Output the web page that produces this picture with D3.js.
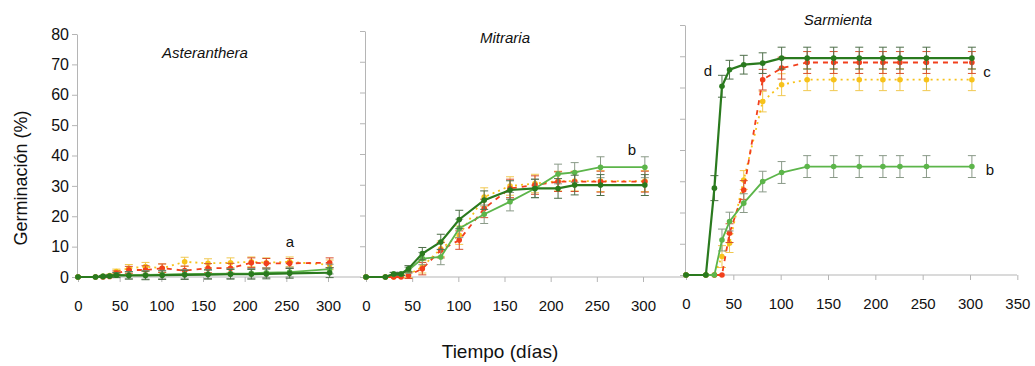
<!DOCTYPE html>
<html>
<head>
<meta charset="utf-8">
<script src="https://cdn.jsdelivr.net/npm/d3@7"></script>
<style>
  body { margin: 0; background: #fff; }
  text { font-family: "Liberation Sans", Arial, sans-serif; }
</style>
</head>
<body>
<div id="chart"></div>
<script>
// sampling days (shared by the three species)
const days = [0, 21, 30, 38, 46, 61, 81, 101, 128, 156, 183, 208, 226, 254, 302];

// Asteranthera
const asterDark   = [0, 0, 0.2, 0.3, 0.6, 0.5, 0.5, 0.6, 0.7, 0.8, 0.9, 0.9, 1.0, 1.2, 1.4];
const asterLight  = [0, 0, 0.2, 0.3, 0.6, 0.6, 0.7, 0.8, 0.9, 1.0, 1.1, 1.2, 1.4, 1.6, 2.6];
const asterRed    = [0, 0, 0, 0.2, 1.2, 2.3, 2.3, 2.9, 2.1, 2.9, 2.9, 4.7, 4.5, 4.5, 4.7];
const asterYellow = [0, 0, 0.2, 0.5, 1.8, 2.9, 3.4, 2.9, 5.0, 4.5, 4.7, 5.0, 4.7, 5.0, 4.0];
const asterErr    = [0, 0, 0.3, 0.4, 0.8, 1.2, 1.4, 1.4, 1.5, 1.5, 1.6, 1.6, 1.6, 1.6, 1.6];

// Mitraria
const mitDark   = [0, 0, 1, 1, 2.7, 7.6, 11.4, 18.7, 25, 28.3, 28.8, 28.8, 29.9, 29.9, 29.9];
const mitLight  = [0, 0, 1, 1, 2.2, 6, 6.5, 15.8, 20.4, 24.5, 28.8, 33.5, 34, 35.7, 35.7];
const mitRed    = [0, 0, 0, 0, 0.5, 2.7, 8.7, 12, 22.3, 28.8, 29.9, 31, 31, 31, 31];
const mitYellow = [0, 0, 0, 0.3, 0.8, 3.3, 9.2, 13.6, 26, 29.6, 30.4, 31.2, 31.2, 31.2, 31.2];
const mitErr    = [0, 0, 0.5, 0.5, 1, 2, 2.5, 3, 3, 3, 3, 3.2, 3.2, 3.4, 3.4];

// Sarmienta
const sarDark   = [0, 0, 27.8, 60.4, 65.7, 67.3, 67.8, 69.4, 69.4, 69.4, 69.4, 69.4, 69.4, 69.4, 69.4];
const sarLight  = [0, 0, 0, 11.2, 17.1, 23, 29.9, 32.8, 34.7, 34.7, 34.7, 34.7, 34.7, 34.7, 34.7];
const sarRed    = [0, 0, 0, 0, 13.4, 27.2, 62.5, 66.2, 68, 68, 68, 68, 68, 68, 68];
const sarYellow = [0, 0, 0, 5.9, 10.2, 30.4, 55.5, 60.9, 62.5, 62.5, 62.5, 62.5, 62.5, 62.5, 62.5];
const sarErr    = [0, 0, 4, 3.5, 3, 3, 3.3, 3.5, 3.5, 3.5, 3.5, 3.5, 3.5, 3.5, 3.5];

const yTicks = [0, 10, 20, 30, 40, 50, 60, 70, 80];

const svg = d3.select('#chart').append('svg')
  .attr('width', 1035)
  .attr('height', 366);

const axisColor = '#b5b5b5';
const styles = {
  dark:   { line: '#2a7a1e', err: '#4f6f4a', width: 2.2, dash: null },
  light:  { line: '#5cb54a', err: '#8a9a88', width: 1.8, dash: null },
  red:    { line: '#f2401c', err: '#d9502e', width: 1.8, dash: '5,5' },
  yellow: { line: '#f7c21a', err: '#f0c850', width: 1.8, dash: '2,4' }
};

const panels = [
  { title: 'Asteranthera', tx: 205, ty: 58, x0: 78, x300: 328, xEnd: 361, xMax: 300,
    y0: 277, y80: 34, labels: true,
    series: { yellow: asterYellow, red: asterRed, light: asterLight, dark: asterDark }, err: asterErr,
    notes: [{ t: 'a', x: 290, y: 247 }] },
  { title: 'Mitraria', tx: 505, ty: 43, x0: 366, x300: 643, xEnd: 684, xMax: 300,
    y0: 277, y80: 31, labels: false,
    series: { yellow: mitYellow, red: mitRed, light: mitLight, dark: mitDark }, err: mitErr,
    notes: [{ t: 'b', x: 632, y: 155 }] },
  { title: 'Sarmienta', tx: 838, ty: 25, x0: 686, x300: 970, xEnd: 1017, xMax: 350,
    y0: 275, y80: 25, labels: false,
    series: { yellow: sarYellow, red: sarRed, light: sarLight, dark: sarDark }, err: sarErr,
    notes: [{ t: 'd', x: 708, y: 76 }, { t: 'c', x: 987, y: 77 }, { t: 'b', x: 990, y: 175 }] }
];

panels.forEach(p => {
  const x = d3.scaleLinear().domain([0, 300]).range([p.x0, p.x300]);
  const y = d3.scaleLinear().domain([0, 80]).range([p.y0, p.y80]);
  const g = svg.append('g');

  // y axis
  const ya = g.append('g')
    .attr('transform', `translate(${p.x0 - 1},0)`)
    .call(d3.axisLeft(y).tickValues(yTicks).tickSize(5).tickSizeOuter(0).tickPadding(3));
  ya.select('.domain').attr('stroke', axisColor);
  ya.selectAll('.tick line').attr('stroke', axisColor);
  ya.selectAll('.tick text')
    .attr('fill', '#111')
    .style('font-size', '16px')
    .style('display', p.labels ? null : 'none');

  // x axis
  const xTicks = d3.range(0, p.xMax + 1, 50);
  const xa = g.append('g')
    .attr('transform', `translate(0,${p.y0})`)
    .call(d3.axisBottom(x).tickValues(xTicks).tickSize(5).tickSizeOuter(0).tickPadding(18));
  xa.select('.domain').remove();
  xa.append('line')
    .attr('x1', p.x0 - 1).attr('x2', p.xEnd)
    .attr('stroke', axisColor);
  xa.selectAll('.tick line').attr('stroke', axisColor);
  xa.selectAll('.tick text').attr('fill', '#111').style('font-size', '15px');

  // series
  Object.keys(p.series).forEach(k => {
    const vals = p.series[k];
    const s = styles[k];
    const pts = days.map((d, i) => ({ d, v: vals[i], e: p.err[i] }));

    const eg = g.append('g');
    pts.filter(q => q.e > 0 && q.v > 0).forEach(q => {
      eg.append('line')
        .attr('x1', x(q.d)).attr('x2', x(q.d))
        .attr('y1', y(q.v - q.e)).attr('y2', y(q.v + q.e))
        .attr('stroke', s.err).attr('stroke-width', 1);
      [q.v - q.e, q.v + q.e].forEach(c => {
        eg.append('line')
          .attr('x1', x(q.d) - 4).attr('x2', x(q.d) + 4)
          .attr('y1', y(c)).attr('y2', y(c))
          .attr('stroke', s.err).attr('stroke-width', 1);
      });
    });

    g.append('path')
      .datum(pts)
      .attr('fill', 'none')
      .attr('stroke', s.line)
      .attr('stroke-width', s.width)
      .attr('stroke-dasharray', s.dash)
      .attr('d', d3.line().x(q => x(q.d)).y(q => y(q.v)));

    g.selectAll(null)
      .data(pts)
      .enter().append('circle')
      .attr('cx', q => x(q.d))
      .attr('cy', q => y(q.v))
      .attr('r', 2.8)
      .attr('fill', s.line);
  });

  g.append('text')
    .attr('x', p.tx).attr('y', p.ty)
    .attr('text-anchor', 'middle')
    .style('font-size', '15px')
    .style('font-style', 'italic')
    .attr('fill', '#111')
    .text(p.title);

  p.notes.forEach(n => {
    g.append('text')
      .attr('x', n.x).attr('y', n.y)
      .attr('text-anchor', 'middle')
      .style('font-size', '15px')
      .attr('fill', '#111')
      .text(n.t);
  });
});

svg.append('text')
  .attr('transform', 'translate(27,178) rotate(-90)')
  .attr('text-anchor', 'middle')
  .style('font-size', '18px')
  .attr('fill', '#111')
  .text('Germinación (%)');

svg.append('text')
  .attr('x', 500).attr('y', 358)
  .attr('text-anchor', 'middle')
  .style('font-size', '19px')
  .attr('fill', '#111')
  .text('Tiempo (días)');
</script>
</body>
</html>
